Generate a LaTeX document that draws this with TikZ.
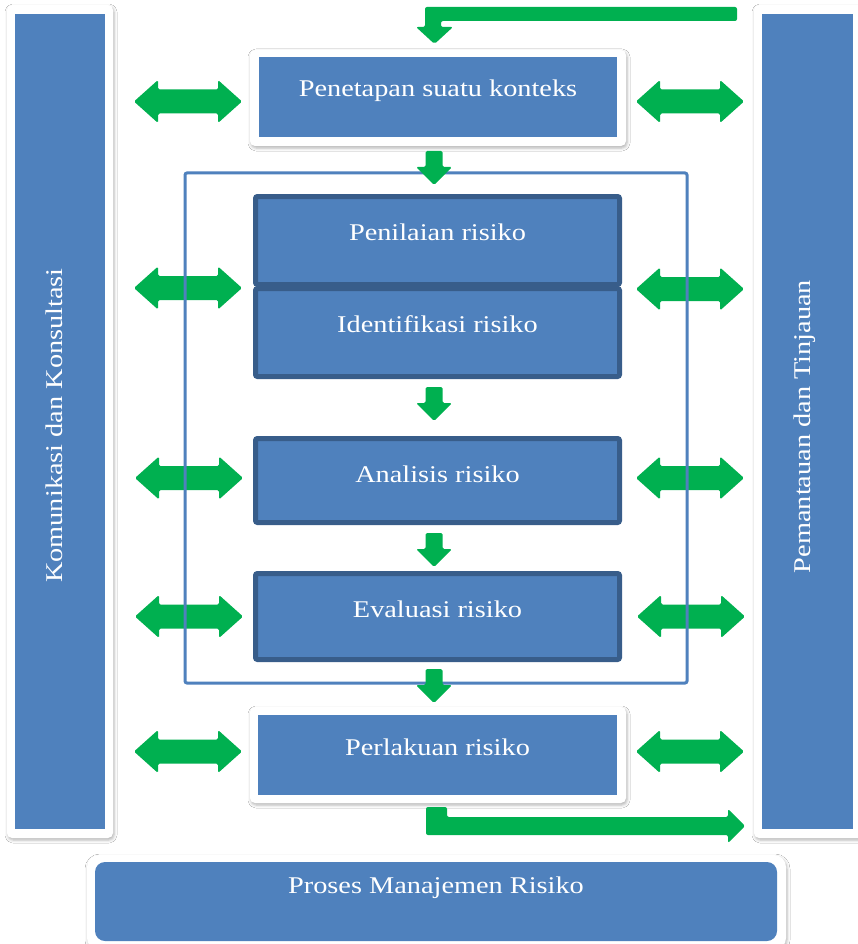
\documentclass[tikz,border=0pt]{standalone}
\usepackage{fontspec}
\setmainfont{Liberation Serif}[FakeStretch=1.18]
\usetikzlibrary{shadows.blur}
\definecolor{myblue}{HTML}{4F81BD}
\definecolor{mydark}{HTML}{385D8A}
\definecolor{mygreen}{HTML}{00B050}
\newcommand\dblarr[2]{\fill[garrow] (#1,#2) -- ++(24,-21.5) -- ++(0,9.5) -- ++(60,0) -- ++(0,-9.5) -- ++(24,21.5) -- ++(-24,21.5) -- ++(0,-9.5) -- ++(-60,0) -- ++(0,9.5) -- cycle;}
\newcommand\downarr[1]{\fill[garrow] (425.5,#1) -- ++(17,0) -- ++(0,16) -- ++(9.5,0) -- ++(-18,18) -- ++(-18,-18) -- ++(9.5,0) -- cycle;}
\begin{document}
\begin{tikzpicture}[x=1pt,y=-1pt,
  frame/.style={fill=white, rounded corners=5pt, inner sep=0pt,
    blur shadow={shadow xshift=1pt, shadow yshift=-2pt, shadow blur radius=3pt, shadow opacity=30}},
  bluebox/.style={fill=myblue, inner sep=0pt},
  darkbox/.style={fill=myblue, draw=mydark, line width=5pt, rounded corners=2pt, inner sep=0pt},
  lbl/.style={text=white, font=\fontsize{24}{28}\selectfont, inner sep=0pt, anchor=base},
  garrow/.style={fill=mygreen, rounded corners=1.5pt},
  areaframe/.style={draw=myblue, line width=3pt, rounded corners=2pt, inner sep=0pt}]
\fill[white] (0,0) rectangle (858,944);
\useasboundingbox (0,0) rectangle (858,944);

% side bars
\node[frame, minimum width=106pt, minimum height=833pt] (lframe) at (60,421.5) {};
\node[bluebox, minimum width=90pt, minimum height=815pt] (lbar) at (60,421.5) {};
\node[lbl, rotate=90] (ltext) at (62,425.5) {Komunikasi dan Konsultasi};

\node[frame, minimum width=112pt, minimum height=833pt] (rframe) at (810,421.5) {};
\node[bluebox, minimum width=91pt, minimum height=815pt] (rbar) at (807.5,421.5) {};
\node[lbl, rotate=90] (rtext) at (810,426.5) {Pemantauan dan Tinjauan};

% top box
\node[frame, minimum width=376pt, minimum height=96pt] (penf) at (438,98) {};
\node[bluebox, minimum width=358pt, minimum height=80pt] (pen) at (438,97) {};
\node[lbl] (pent) at (pen.center) {Penetapan suatu konteks};

% bottom process box
\node[frame, rounded corners=12pt, minimum width=699pt, minimum height=95pt] (prof) at (436.5,902.5) {};
\node[bluebox, rounded corners=10pt, minimum width=682pt, minimum height=79pt] (pro) at (436,901.5) {};
\node[lbl] (prot) at (436,893) {Proses Manajemen Risiko};

% treatment box
\node[frame, minimum width=376pt, minimum height=96pt] (perf) at (438,755) {};
\node[bluebox, minimum width=359pt, minimum height=80pt] (per) at (437.5,755) {};
\node[lbl] (pert) at (per.center) {Perlakuan risiko};

% double arrows
\dblarr{134}{101.5}
\dblarr{636}{101.5}
\dblarr{134}{288}
\dblarr{636}{289}
\dblarr{135}{478}
\dblarr{636}{478}
\dblarr{135}{616.5}
\dblarr{637}{616.5}
\dblarr{134}{751.5}
\dblarr{636}{751.5}

% assessment frame
\node[areaframe, minimum width=502pt, minimum height=510pt] (area) at (436,428) {};

% inner boxes
\node[darkbox, minimum width=364pt, minimum height=88pt] (pnl) at (437.5,240.5) {};
\node[darkbox, minimum width=364pt, minimum height=88pt] (idf) at (437.5,332.5) {};
\node[darkbox, minimum width=364pt, minimum height=84pt] (ana) at (437.5,480.5) {};
\node[darkbox, minimum width=364pt, minimum height=86pt] (eva) at (437.5,616.5) {};
\node[lbl] (pnlt) at (pnl.center) {Penilaian risiko};
\node[lbl] (idft) at (idf.center) {Identifikasi risiko};
\node[lbl] (anat) at ([yshift=-1.5pt]ana.center) {Analisis risiko};
\node[lbl] (evat) at ([yshift=-1pt]eva.center) {Evaluasi risiko};

% down arrows
\downarr{151}
\downarr{387}
\downarr{533}
\downarr{669}

% top feedback arrow
\fill[garrow, rounded corners=2pt] (737,7) -- (425,7) -- (425,27) -- (416,27) -- (434.5,44) -- (453,27) -- (441,27) -- (441,21) -- (737,21) -- cycle;

% bottom output arrow
\fill[garrow, rounded corners=2pt] (426,807) -- (447,807) -- (447,817) -- (728,817) -- (728,809) -- (745,826) -- (728,843) -- (728,835) -- (426,835) -- cycle;
\end{tikzpicture}
\end{document}
